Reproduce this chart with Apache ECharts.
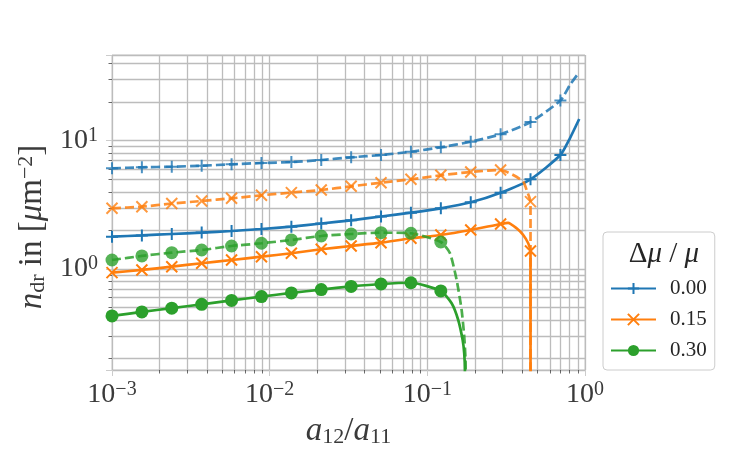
<!DOCTYPE html>
<html>
<head>
<meta charset="utf-8">
<script src="https://cdn.jsdelivr.net/npm/echarts@6/dist/echarts.min.js"></script>
<style>
  html, body { margin: 0; padding: 0; background: #fff; }
  #chart { width: 750px; height: 464px; }
</style>
</head>
<body>
<div id="chart"></div>
<script>
// a12/a11 positions of the markers (same for every curve)
var markX = [0.001, 0.001547, 0.002394, 0.003705, 0.005733, 0.008872, 0.01373, 0.02124,
  0.03287, 0.05086, 0.0787, 0.1218, 0.1885, 0.2916, 0.4512, 0.6982];

var legendNames = ['0.00', '0.15', '0.30'];

// Δμ/μ = 0.00
var blueSolid = [1.786, 1.827, 1.874, 1.921, 1.978, 2.050, 2.137, 2.263, 2.396, 2.566,
  2.747, 2.972, 3.311, 3.933, 5.003, 7.736];
var blueSolidTailX = [0.802, 0.919];
var blueSolidTail = [10.44, 14.76];
var blueDashed = [6.094, 6.204, 6.271, 6.385, 6.547, 6.702, 6.823, 7.072, 7.424, 7.736,
  8.208, 8.884, 9.822, 11.22, 13.99, 20.57];
var blueDashedTailX = [0.802, 0.919];
var blueDashedTail = [27.18, 34.2];

// Δμ/μ = 0.15
var orangeSolid = [0.9358, 0.9822, 1.042, 1.108, 1.175, 1.247, 1.326, 1.424, 1.511, 1.603,
  1.735, 1.841, 2.014, 2.243, 1.381];
var orangeSolidTailX = [0.325, 0.3684, 0.4056, 0.4363, 0.4514];
var orangeSolidTail = [2.29, 2.076, 1.841, 1.586, 0.01];
var orangeDashed = [2.972, 3.059, 3.240, 3.388, 3.556, 3.753, 3.940, 4.128, 4.411, 4.706,
  5.003, 5.375, 5.703, 5.911, 3.35];
var orangeDashedTailX = [0.3505, 0.4056, 0.43, 0.4514];
var orangeDashedTail = [5.40, 4.79, 4.00, 0.01];

// Δμ/μ = 0.30
var greenSolid = [0.4302, 0.4623, 0.4950, 0.5298, 0.5682, 0.6093, 0.6502, 0.6910, 0.7306,
  0.7638, 0.7805, 0.6739];
var greenSolidTailX = [0.1426, 0.157, 0.1674, 0.1714, 0.1731, 0.1736];
var greenSolidTail = [0.540, 0.400, 0.280, 0.220, 0.163, 0.01];
var greenDashed = [1.175, 1.263, 1.340, 1.406, 1.511, 1.586, 1.683, 1.808, 1.874, 1.918,
  1.898, 1.623];
var greenDashedTailX = [0.139, 0.1534, 0.165, 0.1714, 0.1749, 0.1755];
var greenDashedTail = [1.333, 0.821, 0.479, 0.297, 0.185, 0.01];

var FONT = "'Liberation Serif', 'DejaVu Serif', serif";
var TXT = '#3a3a3a';
var GRIDC = '#bcbcbc';

function curve(vals, tailX, tailY) {
  var pts = vals.map(function (v, i) { return { value: [markX[i], v] }; });
  tailX.forEach(function (x, i) {
    pts.push({ value: [x, tailY[i]], symbol: 'none' });
  });
  pts.sort(function (a, b) { return a.value[0] - b.value[0]; });
  return pts;
}

function line(name, data, color, symbol, size, dashed) {
  return {
    name: name,
    type: 'line',
    data: data,
    smooth: 0.2,
    symbol: symbol,
    symbolSize: size,
    clip: true,
    lineStyle: { color: color, width: 2.7, type: dashed ? [9, 4] : 'solid', opacity: dashed ? 0.85 : 1 },
    itemStyle: {
      color: color, borderColor: color,
      borderWidth: symbol === 'circle' ? 0 : 2,
      opacity: dashed ? 0.8 : 1
    },
    emphasis: { disabled: true }
  };
}

function powLabel(v) {
  var l = Math.log10(v), e = Math.round(l);
  if (Math.abs(l - e) > 1e-6) return '';
  return '{b|10}{s|' + (e < 0 ? '\u2212' + (-e) : e) + '}';
}

var labelRich = {
  b: { fontFamily: FONT, fontSize: 28, color: TXT, lineHeight: 30 },
  s: { fontFamily: FONT, fontSize: 20, color: TXT, verticalAlign: 'top', lineHeight: 20 }
};

var nameRich = {
  i: { fontFamily: FONT, fontSize: 33, fontStyle: 'italic', color: TXT, lineHeight: 34 },
  r: { fontFamily: FONT, fontSize: 33, color: TXT, lineHeight: 34 },
  s: { fontFamily: FONT, fontSize: 22, color: TXT, verticalAlign: 'bottom', lineHeight: 22 },
  p: { fontFamily: FONT, fontSize: 22, color: TXT, verticalAlign: 'top', lineHeight: 22 }
};

var PLUS = 'path://M0,6L12,6M6,0L6,12';
var CROSS = 'path://M0,0L12,12M12,0L0,12';

var chart = echarts.init(document.getElementById('chart'));
chart.setOption({
  animation: false,
  grid: {
    left: 112, right: 165, top: 55, bottom: 94,
    show: true, borderColor: '#cccccc', borderWidth: 1
  },
  title: {
    text: '{r|\u0394}{i|\u03bc}{r| / }{i|\u03bc}',
    left: 659, top: 235, textAlign: 'center',
    textStyle: {
      fontWeight: 'normal',
      rich: {
        i: { fontFamily: FONT, fontSize: 29, fontStyle: 'italic', fontWeight: 'normal', color: '#262626' },
        r: { fontFamily: FONT, fontSize: 29, fontWeight: 'normal', color: '#262626' }
      }
    }
  },
  legend: {
    data: legendNames,
    orient: 'vertical',
    left: 603, top: 232,
    padding: [46, 8, 9, 7],
    itemGap: 10, itemWidth: 45, itemHeight: 14,
    backgroundColor: '#ffffff',
    borderColor: '#cccccc', borderWidth: 1, borderRadius: 4,
    selectedMode: false,
    textStyle: { fontFamily: FONT, fontSize: 21, color: '#262626', padding: [0, 0, 0, 9] }
  },
  xAxis: {
    type: 'log', logBase: 10, min: 0.001, max: 1,
    name: '{i|a}{s|12}{r|/}{i|a}{s|11}',
    nameLocation: 'middle', nameGap: 44,
    nameTextStyle: { rich: nameRich },
    axisLine: { show: false },
    axisTick: { show: true, length: 6, lineStyle: { color: '#cccccc' } },
    minorTick: { show: true, splitNumber: 9, length: 3.5, lineStyle: { color: '#444', width: 0.8 } },
    splitLine: { show: true, lineStyle: { color: GRIDC, width: 1.3 } },
    minorSplitLine: { show: true, lineStyle: { color: GRIDC, width: 1.3 } },
    axisLabel: { formatter: powLabel, margin: 10, rich: labelRich }
  },
  yAxis: {
    type: 'log', logBase: 10, min: 0.163, max: 46.6,
    name: '{i|n}{s|dr}{r| in [}{i|\u03bc}{r|m}{p|\u22122}{r|]}',
    nameLocation: 'middle', nameGap: 62,
    nameTextStyle: { rich: nameRich, padding: [0, 29, 0, 0] },
    axisLine: { show: false },
    axisTick: { show: true, length: 6, lineStyle: { color: '#cccccc' } },
    minorTick: { show: true, splitNumber: 9, length: 3.5, lineStyle: { color: '#444', width: 0.8 } },
    splitLine: { show: true, lineStyle: { color: GRIDC, width: 1.3 } },
    minorSplitLine: { show: true, lineStyle: { color: GRIDC, width: 1.3 } },
    axisLabel: { formatter: powLabel, margin: 14, rich: labelRich }
  },
  series: [
    line('0.00', curve(blueSolid, blueSolidTailX, blueSolidTail), '#1f77b4', PLUS, 12, false),
    line('0.15', curve(orangeSolid, orangeSolidTailX, orangeSolidTail), '#ff7f0e', CROSS, 11, false),
    line('0.30', curve(greenSolid, greenSolidTailX, greenSolidTail), '#2ca02c', 'circle', 13, false),
    line('0.00', curve(blueDashed, blueDashedTailX, blueDashedTail), '#1f77b4', PLUS, 12, true),
    line('0.15', curve(orangeDashed, orangeDashedTailX, orangeDashedTail), '#ff7f0e', CROSS, 11, true),
    line('0.30', curve(greenDashed, greenDashedTailX, greenDashedTail), '#2ca02c', 'circle', 13, true)
  ]
});
</script>
</body>
</html>
